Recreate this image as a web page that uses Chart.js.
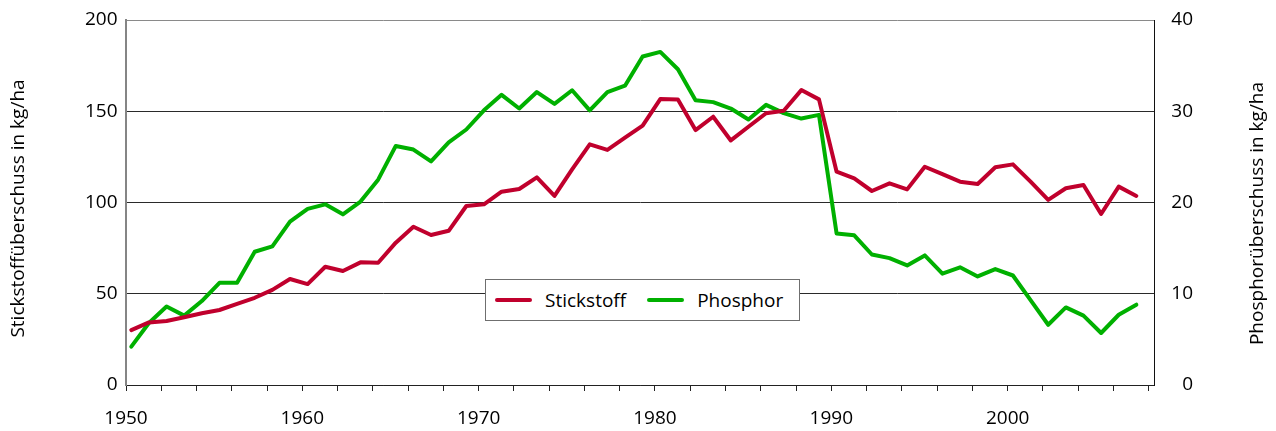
<!DOCTYPE html>
<html lang="de">
<head>
<meta charset="utf-8">
<title>Stickstoff- und Phosphorüberschuss</title>
<script src="https://cdn.jsdelivr.net/npm/chart.js@4.4.1/dist/chart.umd.min.js"></script>
<style>
  html, body { margin: 0; padding: 0; background: #fff; }
  #wrap { position: relative; width: 1276px; height: 431px; }
  #legende {
    position: absolute; left: 485px; top: 279px; width: 313px; height: 40px;
    border: 1px solid #6f6f6f; background: #fff;
    display: flex; align-items: center;
    font-family: "Open Sans", sans-serif; font-size: 19px; color: #000;
  }
  .eintrag { display: flex; align-items: center; margin-left: 9px; }
  .eintrag + .eintrag { margin-left: 21px; }
  .linie { width: 37px; height: 4px; border-radius: 2px; margin-right: 13px; }
</style>
</head>
<body>
<div id="wrap">
  <canvas id="chart" width="1276" height="431"></canvas>
  <div id="legende"></div>
</div>
<script>
// Jahre und Bilanzüberschüsse (N linke Achse, P rechte Achse)
const jahre = [
  1950, 1951, 1952, 1953, 1954, 1955, 1956, 1957, 1958, 1959,
  1960, 1961, 1962, 1963, 1964, 1965, 1966, 1967, 1968, 1969,
  1970, 1971, 1972, 1973, 1974, 1975, 1976, 1977, 1978, 1979,
  1980, 1981, 1982, 1983, 1984, 1985, 1986, 1987, 1988, 1989,
  1990, 1991, 1992, 1993, 1994, 1995, 1996, 1997, 1998, 1999,
  2000, 2001, 2002, 2003, 2004, 2005, 2006, 2007
];

const stickstoff = [
  30.1, 34.3, 35.1, 37.1, 39.3, 41.1, 44.4, 47.8, 52.1, 58.1,
  55.3, 64.8, 62.5, 67.2, 67.0, 78.0, 86.7, 82.2, 84.5, 98.1,
  99.0, 105.9, 107.4, 113.8, 103.6, 118.2, 131.9, 128.8, 135.5, 142.1,
  156.7, 156.5, 139.7, 147.0, 134.0, 141.5, 148.9, 150.3, 161.6, 156.5,
  116.9, 113.2, 106.3, 110.5, 107.2, 119.6, 115.5, 111.4, 110.1, 119.3,
  120.9, 111.4, 101.4, 107.8, 109.6, 93.7, 108.7, 103.6
];

const phosphor = [
  4.2, 6.8, 8.6, 7.6, 9.2, 11.2, 11.2, 14.6, 15.2, 17.9,
  19.3, 19.8, 18.7, 20.1, 22.5, 26.2, 25.8, 24.5, 26.6, 28.0,
  30.1, 31.8, 30.3, 32.1, 30.8, 32.3, 30.1, 32.1, 32.8, 36.0,
  36.5, 34.6, 31.2, 31.0, 30.3, 29.1, 30.7, 29.8, 29.2, 29.6,
  16.6, 16.4, 14.3, 13.9, 13.1, 14.2, 12.2, 12.9, 11.9, 12.7,
  12.0, 9.3, 6.6, 8.5, 7.6, 5.7, 7.7, 8.8
];

const serien = ["Stickstoff", "Phosphor"];
const farben = ["#c0002d", "#00b000"];
const titelLinks = "Stickstoffüberschuss in kg/ha";
const titelRechts = "Phosphorüberschuss in kg/ha";
const xBeschriftung = [1950, 1960, 1970, 1980, 1990, 2000];
const yTicksLinks = [0, 50, 100, 150, 200];
const yTicksRechts = [0, 10, 20, 30, 40];

// Werte liegen knapp hinter dem Jahresstrich
const versatz = 0.3;

Chart.defaults.font.family = '"Open Sans", sans-serif';
Chart.defaults.font.size = 19;
Chart.defaults.color = "#000";

function punkte(werte) {
  return werte.map((v, i) => ({ x: jahre[i] + versatz, y: v }));
}

// beide Achsentitel lesen von unten nach oben
const achsenTitel = {
  id: "achsenTitel",
  afterDraw(chart) {
    const ctx = chart.ctx;
    const mitte = (chart.chartArea.top + chart.chartArea.bottom) / 2;
    ctx.save();
    ctx.font = '19px "Open Sans", sans-serif';
    ctx.fillStyle = "#000";
    ctx.textAlign = "center";
    ctx.textBaseline = "middle";
    [[18.5, mitte + 6, titelLinks], [1258, mitte + 11, titelRechts]].forEach(([x, y, text]) => {
      ctx.save();
      ctx.translate(x, y);
      ctx.rotate(-Math.PI / 2);
      ctx.fillText(text, 0, 0);
      ctx.restore();
    });
    ctx.restore();
  }
};

const ctx = document.getElementById("chart").getContext("2d");
const chart = new Chart(ctx, {
  type: "line",
  data: {
    datasets: [
      {
        label: serien[0],
        data: punkte(stickstoff),
        yAxisID: "y",
        borderColor: farben[0],
        backgroundColor: farben[0],
        borderWidth: 4,
        borderCapStyle: "round",
        borderJoinStyle: "round",
        pointRadius: 0,
        tension: 0
      },
      {
        label: serien[1],
        data: punkte(phosphor),
        yAxisID: "y1",
        borderColor: farben[1],
        backgroundColor: farben[1],
        borderWidth: 4,
        borderCapStyle: "round",
        borderJoinStyle: "round",
        pointRadius: 0,
        tension: 0
      }
    ]
  },
  options: {
    responsive: false,
    animation: false,
    layout: { padding: { top: 20, left: 0, right: 83, bottom: 0 } },
    plugins: {
      legend: { display: false },
      tooltip: { enabled: false }
    },
    scales: {
      x: {
        type: "linear",
        min: 1950,
        max: 2008.3,
        afterBuildTicks(scale) {
          const t = [];
          for (let j = 1950; j <= 2008; j += 2) t.push({ value: j });
          scale.ticks = t;
        },
        afterFit(scale) { scale.height = 46; },
        grid: {
          drawOnChartArea: false,
          drawTicks: true,
          tickLength: 6,
          color: "#222"
        },
        border: { display: true, color: "#222", width: 1 },
        ticks: {
          autoSkip: false,
          maxRotation: 0,
          padding: 16,
          callback: (v) => xBeschriftung.includes(v) ? String(v) : ""
        }
      },
      y: {
        position: "left",
        min: 0,
        max: 200,
        afterBuildTicks(scale) { scale.ticks = yTicksLinks.map(v => ({ value: v })); },
        afterFit(scale) { scale.width = 126; },
        grid: {
          drawTicks: false,
          color: (c) => c.tick && c.tick.value === 200 ? "#8a8a8a" : "#2a2a2a",
          lineWidth: 1
        },
        border: { display: true, color: "#858585", width: 2 },
        ticks: { padding: 8.5 }
      },
      y1: {
        position: "right",
        min: 0,
        max: 40,
        afterBuildTicks(scale) { scale.ticks = yTicksRechts.map(v => ({ value: v })); },
        afterFit(scale) { scale.width = 39; },
        grid: { drawOnChartArea: false, drawTicks: false },
        border: { display: true, color: "#111", width: 1 },
        ticks: { padding: 0, crossAlign: "far" }
      }
    }
  },
  plugins: [achsenTitel]
});

// Legende aus den Datensätzen
const legende = document.getElementById("legende");
chart.data.datasets.forEach((ds) => {
  const eintrag = document.createElement("div");
  eintrag.className = "eintrag";
  const linie = document.createElement("span");
  linie.className = "linie";
  linie.style.background = ds.borderColor;
  const text = document.createElement("span");
  text.textContent = ds.label;
  eintrag.appendChild(linie);
  eintrag.appendChild(text);
  legende.appendChild(eintrag);
});
</script>
</body>
</html>
